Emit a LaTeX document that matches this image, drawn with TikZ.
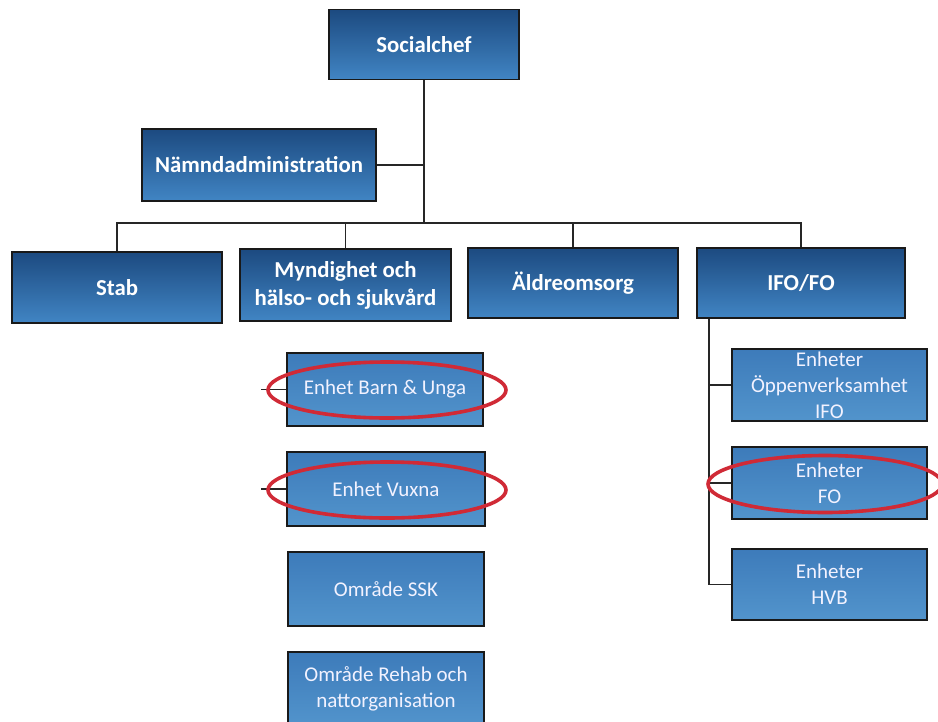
\documentclass[tikz,border=0pt]{standalone}
\usepackage{fontspec}
\setmainfont{Carlito}
\usetikzlibrary{shapes.geometric}
\definecolor{topdark}{HTML}{1C4A80}
\definecolor{botdark}{HTML}{4185C4}
\definecolor{toplight}{HTML}{3D7BBA}
\definecolor{botlight}{HTML}{5294CC}
\definecolor{ringred}{HTML}{D02A36}
\begin{document}
\begin{tikzpicture}[x=1pt,y=-1pt,
  mainbox/.style={draw=black!90, line width=1.8pt, rectangle, top color=topdark, bottom color=botdark,
    text=white, font=\bfseries\fontsize{22.8}{28}\selectfont, align=center, inner sep=0pt},
  subbox/.style={draw=black!90, line width=1.8pt, rectangle, top color=toplight, bottom color=botlight,
    text=white!95!blue, font=\fontsize{21}{26}\selectfont, align=center, inner sep=0pt},
  conn/.style={draw=black!85, line width=1.2pt},
  ring/.style={ellipse, draw=ringred, line width=3.6pt, inner sep=0pt}]
\useasboundingbox (0,0) rectangle (938,721);
% main boxes
\node[mainbox, minimum width=190, minimum height=70] (soc) at (424,44.5) {Socialchef};
\node[mainbox, minimum width=234, minimum height=72] (nam) at (259,165) {Nämndadministration};
\node[mainbox, minimum width=210, minimum height=71] (stab) at (117,287.5) {Stab};
\node[mainbox, minimum width=211, minimum height=72] (myn) at (345.5,285) {Myndighet och\\hälso- och sjukvård};
\node[mainbox, minimum width=210, minimum height=70] (ald) at (573,283) {Äldreomsorg};
\node[mainbox, minimum width=208, minimum height=70] (ifo) at (801,283) {IFO/FO};
% sub boxes right
\node[subbox, minimum width=195, minimum height=72] (oppen) at (829.5,385) {Enheter\\Öppenverksamhet\\IFO};
\node[subbox, minimum width=195, minimum height=72] (fo) at (829.5,483) {Enheter\\FO};
\node[subbox, minimum width=195, minimum height=71] (hvb) at (829.5,584.5) {Enheter\\HVB};
% sub boxes left
\node[subbox, minimum width=196, minimum height=73] (barn) at (385,389.5) {Enhet Barn \& Unga};
\node[subbox, minimum width=198, minimum height=74] (vux) at (386,489) {Enhet Vuxna};
\node[subbox, minimum width=196, minimum height=74] (ssk) at (386,589) {Område SSK};
\node[subbox, minimum width=196, minimum height=74] (rehab) at (386,689) {Område Rehab och\\nattorganisation};
% connectors
\coordinate (busy) at (0,223);
\coordinate (ifox) at (709,0);
\coordinate (stubx) at (261,0);
\draw[conn] (soc.south) -- (soc.south |- busy);
\draw[conn] (nam.east) -- (nam.east -| soc.south);
\draw[conn] (stab.north) -- (stab.north |- busy) -- (ifo.north |- busy) -- (ifo.north);
\draw[conn] (myn.north) -- (myn.north |- busy);
\draw[conn] (ald.north) -- (ald.north |- busy);
\draw[conn] (ifox |- ifo.south) |- (hvb.west);
\draw[conn] (ifox |- oppen.west) -- (oppen.west);
\draw[conn] (ifox |- fo.west) -- (fo.west);
\draw[conn] (stubx |- barn.west) -- (barn.west);
\draw[conn] (stubx |- vux.west) -- (vux.west);
% red rings
\node[ring, minimum width=238, minimum height=56] (r1) at (387,390) {};
\node[ring, minimum width=238, minimum height=56] (r2) at (387,490) {};
\node[ring, minimum width=234, minimum height=57] (r3) at (825,484) {};
\end{tikzpicture}
\end{document}
